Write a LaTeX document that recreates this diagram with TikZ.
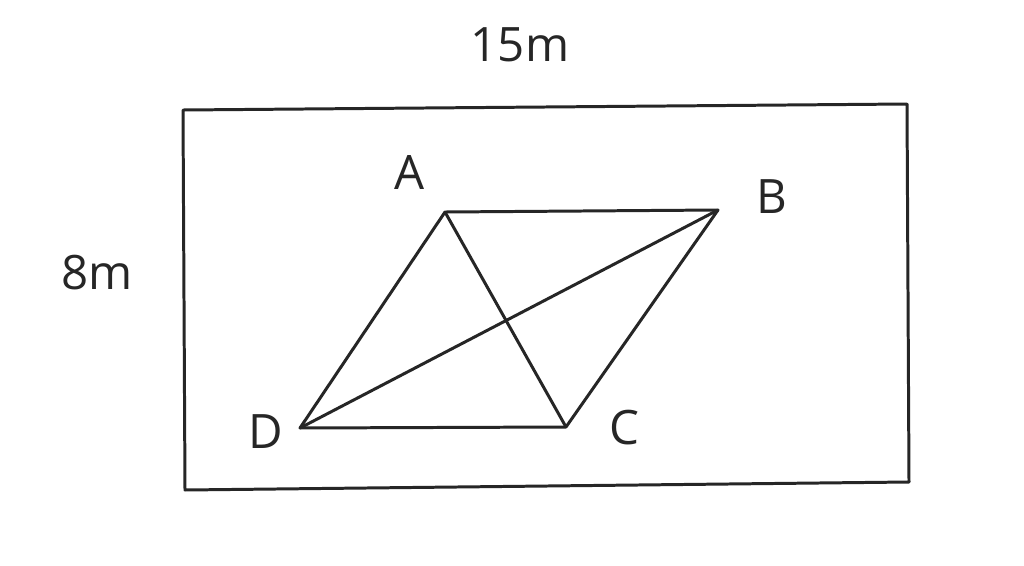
\documentclass[tikz,border=0pt]{standalone}
\usepackage{fontspec}
\setmainfont{Open Sans}
\begin{document}
\begin{tikzpicture}[x=0.02cm,y=-0.02cm,
  edge/.style={draw=black!85,line width=1.7pt,line join=round},
  lbl/.style={font=\fontsize{27}{32}\selectfont,text=black!85,inner sep=0pt}]
\useasboundingbox[fill=white] (0,0) rectangle (1024,565);
\coordinate (R1) at (183,110);
\coordinate (R2) at (907,104);
\coordinate (R3) at (909,482);
\coordinate (R4) at (185,490);
\draw[edge] (R1) -- (R2) -- (R3) -- (R4) -- cycle;
\coordinate (A) at (445,212);
\coordinate (B) at (718,210);
\coordinate (C) at (566,427);
\coordinate (D) at (300,428);
\draw[edge] (A) -- (B) -- (C) -- (D) -- cycle;
\draw[edge] (A) -- (C);
\draw[edge] (B) -- (D);
\node[lbl] (lA) at (410,172) {A};
\node[lbl] (lB) at (772,197) {B};
\node[lbl] (lC) at (624,428) {C};
\node[lbl] (lD) at (266,432) {D};
\node[lbl] (top) at (520,45) {15m};
\node[lbl] (side) at (97,273) {8m};
\end{tikzpicture}
\end{document}
